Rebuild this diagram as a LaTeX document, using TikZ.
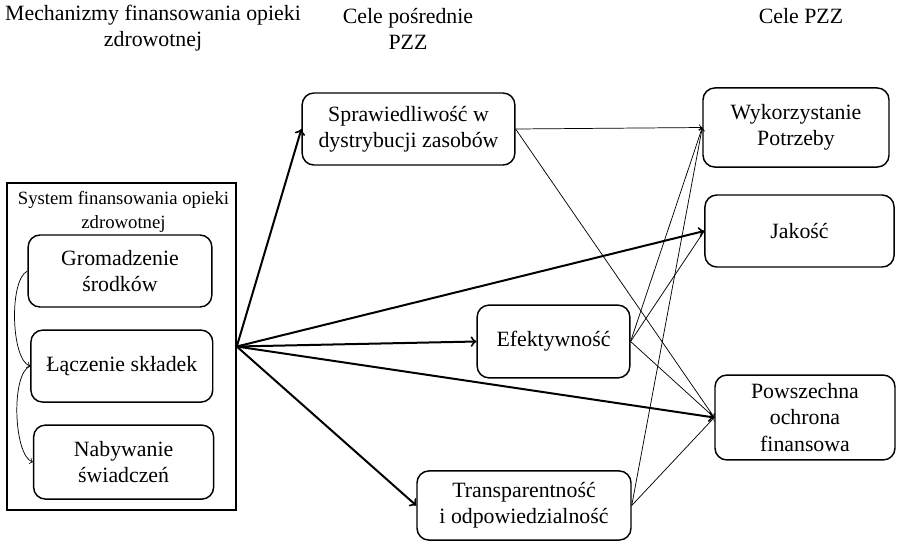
\documentclass[tikz,border=0pt,12pt]{standalone}
\usepackage{fontspec}
\setmainfont{Liberation Serif}
\usepackage{tikz}
\usetikzlibrary{arrows,positioning}
\tikzstyle{stage} = [draw, thick, rectangle, rounded corners=6.5pt, align=center,
    minimum height=39.6pt, inner sep=2pt]
\tikzstyle{system} = [draw, thick, rectangle, minimum width=126pt, minimum height=179.9pt]
\tikzstyle{header} = [align=center, inner sep=0pt]
\tikzstyle{sidelink} = [->, line width=0.4pt]
\tikzstyle{mainlink} = [->, line width=1.1pt]

\begin{document}
\begin{tikzpicture}[x=0.55pt, y=-0.55pt, >=to]
    \useasboundingbox (0,0) rectangle (897,547);
    % headers
    \node [header] (mech) at (153,28) {Mechanizmy finansowania opieki\\zdrowotnej};
    \node [header] (celeposr) at (408,29) {Cele po\'srednie\\PZZ};
    \node [header] (celepzz) at (801,16) {Cele PZZ};
    % funding system
    \node [system] (sys) at (121.5,346.5) {};
    \node [header, font=\fontsize{10.3}{13.6}\selectfont] (systitle) at (123.5,212) {System finansowania opieki\\zdrowotnej};
    \node [stage, minimum width=101pt] (groma) at (120,271) {Gromadzenie\\\'srodk\'ow};
    \node [stage, minimum width=100pt, below of=groma, node distance=52.3pt, xshift=1pt] (lacz) {\L\k{a}czenie sk\l adek};
    \node [stage, minimum width=99pt, minimum height=40.7pt, below of=lacz, node distance=52.8pt, xshift=1pt] (nabyw) {Nabywanie\\\'swiadcze\'n};
    \coordinate (src) at (sys.east);
    % intermediate goals
    \node [stage, minimum width=117pt] (spraw) at (408.5,129) {Sprawiedliwo\'s\'c w\\dystrybucji zasob\'ow};
    \node [stage, minimum width=84pt, minimum height=40pt] (efekt) at (553.5,341.5) {Efektywno\'s\'c};
    \node [stage, minimum width=117.7pt, minimum height=38pt] (transp) at (524,505.5) {Transparentno\'s\'c\\i odpowiedzialno\'s\'c};
    % final goals
    \node [stage, minimum width=102.3pt, minimum height=43.5pt] (wykorz) at (796,127.5) {Wykorzystanie\\Potrzeby};
    \node [stage, minimum width=104pt] (jakosc) at (799.5,231) {Jako\'s\'c};
    \node [stage, minimum width=99pt, minimum height=46.7pt] (powsz) at (805,417.5) {Powszechna\\ochrona\\finansowa};
    % links inside the system
    \draw [sidelink] (groma.west) to [out=205, in=160, looseness=0.55] (lacz.west);
    \draw [sidelink] (lacz.west) to [out=200, in=160, looseness=0.55] (nabyw.west);
    % thick arrows
    \draw [mainlink] (src) -- (spraw.west);
    \draw [mainlink] (src) -- (jakosc.west);
    \draw [mainlink] (src) -- (efekt.west);
    \draw [mainlink] (src) -- (powsz.west);
    \draw [mainlink] (src) -- (transp.west);
    % thin arrows
    \draw [sidelink] (spraw.east) -- (wykorz.west);
    \draw [sidelink] (spraw.east) -- (powsz.west);
    \draw [sidelink] (efekt.east) -- (wykorz.west);
    \draw [sidelink] (efekt.east) -- (jakosc.west);
    \draw [sidelink] (efekt.east) -- (powsz.west);
    \draw [sidelink] (transp.east) -- (wykorz.west);
    \draw [sidelink] (transp.east) -- (powsz.west);
\end{tikzpicture}
\end{document}
